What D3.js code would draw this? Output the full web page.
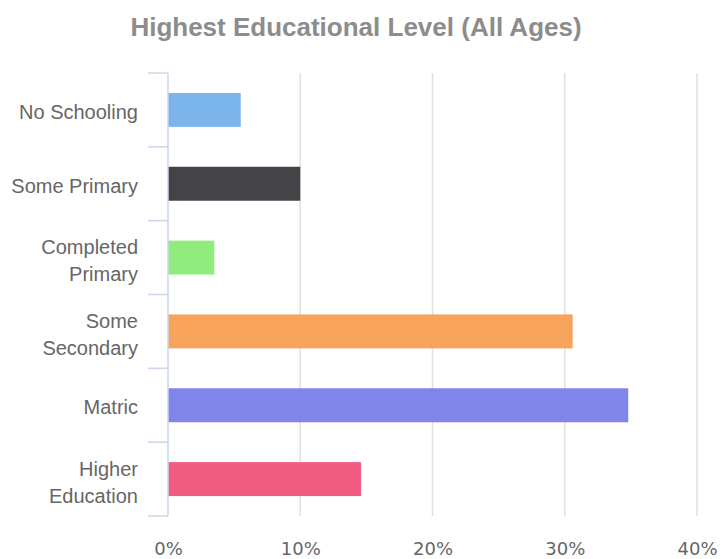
<!DOCTYPE html>
<html>
<head>
<meta charset="utf-8">
<script src="https://cdn.jsdelivr.net/npm/d3@7"></script>
<style>
  html, body { margin: 0; padding: 0; background: #fff; }
  svg { display: block; }
</style>
</head>
<body>
<svg id="chart" width="722" height="559"></svg>
<script>
// Share of population by highest educational level (%)
const categories = ["No Schooling", "Some Primary", "Completed Primary", "Some Secondary", "Matric", "Higher Education"];
const values = [5.5, 10.0, 3.5, 30.6, 34.8, 14.6];
const colors = ["#7cb5ec", "#434348", "#90ed7d", "#f7a35c", "#8085e9", "#f15c80"];
const xTicks = [0, 10, 20, 30, 40];
const title = "Highest Educational Level (All Ages)";

const svg = d3.select("#chart");
const W = 722, H = 559;
const margin = { top: 73, right: 25, bottom: 43, left: 168 };

const x = d3.scaleLinear().domain([0, 40]).range([margin.left, W - margin.right]);
const y = d3.scaleBand().domain(categories).range([margin.top, H - margin.bottom]).paddingInner(0.54).paddingOuter(0.27);

// Title
svg.append("text")
  .attr("x", 356).attr("y", 36)
  .attr("text-anchor", "middle")
  .style("font-family", "'Liberation Sans', Arial, sans-serif")
  .style("font-weight", "bold")
  .style("font-size", "26px")
  .style("fill", "#8c8c8c")
  .text(title);

// Vertical grid lines
svg.append("g").selectAll("line")
  .data(xTicks.slice(1))
  .join("line")
  .attr("x1", d => x(d)).attr("x2", d => x(d))
  .attr("y1", margin.top).attr("y2", H - margin.bottom)
  .attr("stroke", "#e0e0e0").attr("stroke-width", 1.5);

// Bars
svg.append("g").selectAll("rect")
  .data(categories)
  .join("rect")
  .attr("x", x(0))
  .attr("y", d => y(d))
  .attr("width", (d, i) => x(values[i]) - x(0))
  .attr("height", y.bandwidth())
  .attr("fill", (d, i) => colors[i]);

// Category axis line and boundary ticks
const bounds = d3.range(categories.length + 1).map(i => margin.top + i * (H - margin.bottom - margin.top) / categories.length);
svg.append("line")
  .attr("x1", x(0)).attr("x2", x(0))
  .attr("y1", margin.top).attr("y2", H - margin.bottom)
  .attr("stroke", "#ccd6eb").attr("stroke-width", 1.5);
svg.append("g").selectAll("line")
  .data(bounds)
  .join("line")
  .attr("x1", x(0) - 20).attr("x2", x(0))
  .attr("y1", d => d).attr("y2", d => d)
  .attr("stroke", "#ccd6eb").attr("stroke-width", 1.5);

// Category labels, wrapped onto two lines when too wide
const labelFont = "'Liberation Sans', Arial, sans-serif";
const labels = svg.append("g").selectAll("text")
  .data(categories)
  .join("text")
  .attr("text-anchor", "end")
  .style("font-family", labelFont)
  .style("font-size", "20px")
  .style("fill", "#666");

labels.each(function(d) {
  const t = d3.select(this);
  const cy = y(d) + y.bandwidth() / 2;
  t.text(d);
  const words = d.split(" ");
  if (this.getComputedTextLength() > 135 && words.length > 1) {
    t.text(null);
    const lines = [words.slice(0, -1).join(" "), words[words.length - 1]];
    const lh = 27;
    lines.forEach((ln, k) => {
      t.append("tspan")
        .attr("x", 138)
        .attr("y", cy + (k - (lines.length - 1) / 2) * lh + 10)
        .text(ln);
    });
  } else {
    t.attr("x", 138).attr("y", cy + 9);
  }
});

// Value axis labels
const xAxis = d3.axisBottom(x).tickValues(xTicks).tickFormat(d => d + "%").tickSize(0);
const gx = svg.append("g")
  .attr("transform", `translate(0,${H - 4})`)
  .call(xAxis);
gx.select(".domain").remove();
gx.selectAll("text")
  .attr("y", 0)
  .attr("dy", 0)
  .style("font-family", "'DejaVu Sans', Verdana, sans-serif")
  .style("font-size", "18px")
  .style("fill", "#666");
</script>
</body>
</html>
